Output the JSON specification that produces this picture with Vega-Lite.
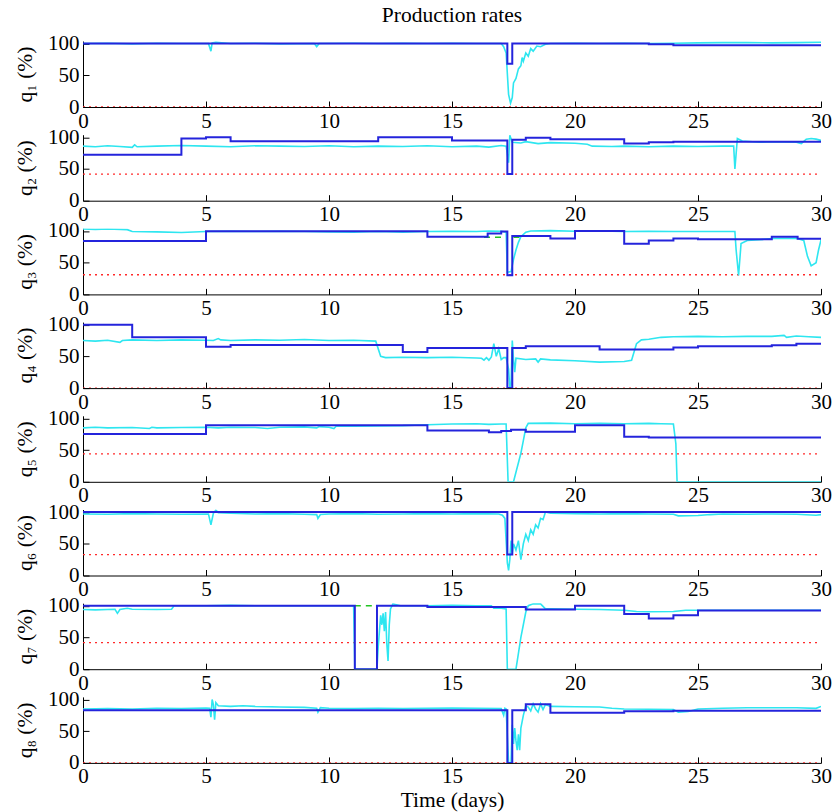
{
 "$schema": "https://vega.github.io/schema/vega-lite/v6.json",
 "padding": {"left": 14, "top": 5, "right": 8, "bottom": 0},
 "title": {"text": "Production rates", "font": "Liberation Serif", "fontSize": 21.5, "fontWeight": "normal", "color": "#000", "anchor": "middle", "frame": "group", "offset": 6},
 "spacing": 27.7,
 "bounds": "flush",
 "datasets": {
  "d": [
   {"q":1,"s":"lim","t":0,"v":0},{"q":1,"s":"lim","t":30,"v":0},
   {"q":2,"s":"lim","t":0,"v":42},{"q":2,"s":"lim","t":30,"v":42},
   {"q":3,"s":"lim","t":0,"v":31},{"q":3,"s":"lim","t":30,"v":31},
   {"q":4,"s":"lim","t":0,"v":0},{"q":4,"s":"lim","t":30,"v":0},
   {"q":5,"s":"lim","t":0,"v":44},{"q":5,"s":"lim","t":30,"v":44},
   {"q":6,"s":"lim","t":0,"v":33},{"q":6,"s":"lim","t":30,"v":33},
   {"q":7,"s":"lim","t":0,"v":42},{"q":7,"s":"lim","t":30,"v":42},
   {"q":8,"s":"lim","t":0,"v":0},{"q":8,"s":"lim","t":30,"v":0},

   {"q":3,"s":"g","g":1,"t":16.3,"v":90},{"q":3,"s":"g","g":1,"t":17.2,"v":90},
   {"q":3,"s":"g","g":2,"t":17.5,"v":90},{"q":3,"s":"g","g":2,"t":17.9,"v":90},
   {"q":7,"s":"g","g":1,"t":11.05,"v":100},{"q":7,"s":"g","g":1,"t":12.0,"v":100},

   {"q":1,"s":"sp","t":0,"v":100},{"q":1,"s":"sp","t":17.25,"v":68},{"q":1,"s":"sp","t":17.45,"v":100},{"q":1,"s":"sp","t":23,"v":99},{"q":1,"s":"sp","t":24,"v":97.5},{"q":1,"s":"sp","t":30,"v":97.5},

   {"q":2,"s":"sp","t":0,"v":72.5},{"q":2,"s":"sp","t":4,"v":98},{"q":2,"s":"sp","t":5,"v":100},{"q":2,"s":"sp","t":6,"v":93.5},{"q":2,"s":"sp","t":12,"v":100},{"q":2,"s":"sp","t":15,"v":95},{"q":2,"s":"sp","t":17.25,"v":42},{"q":2,"s":"sp","t":17.45,"v":96},{"q":2,"s":"sp","t":18,"v":99},{"q":2,"s":"sp","t":19,"v":97},{"q":2,"s":"sp","t":22,"v":90},{"q":2,"s":"sp","t":23,"v":92},{"q":2,"s":"sp","t":24,"v":93},{"q":2,"s":"sp","t":30,"v":93},

   {"q":3,"s":"sp","t":0,"v":84},{"q":3,"s":"sp","t":5,"v":99.5},{"q":3,"s":"sp","t":14,"v":91},{"q":3,"s":"sp","t":16.45,"v":96},{"q":3,"s":"sp","t":17.0,"v":99},{"q":3,"s":"sp","t":17.25,"v":30},{"q":3,"s":"sp","t":17.45,"v":92},{"q":3,"s":"sp","t":19,"v":88},{"q":3,"s":"sp","t":20,"v":100},{"q":3,"s":"sp","t":22,"v":80},{"q":3,"s":"sp","t":23,"v":85},{"q":3,"s":"sp","t":24,"v":88},{"q":3,"s":"sp","t":25,"v":87},{"q":3,"s":"sp","t":28,"v":91},{"q":3,"s":"sp","t":29.05,"v":87.5},{"q":3,"s":"sp","t":30,"v":87.5},

   {"q":4,"s":"sp","t":0,"v":100},{"q":4,"s":"sp","t":2,"v":80},{"q":4,"s":"sp","t":5,"v":65},{"q":4,"s":"sp","t":6,"v":68},{"q":4,"s":"sp","t":13,"v":57},{"q":4,"s":"sp","t":14,"v":63},{"q":4,"s":"sp","t":17.25,"v":0},{"q":4,"s":"sp","t":17.45,"v":63},{"q":4,"s":"sp","t":18,"v":66},{"q":4,"s":"sp","t":21,"v":61},{"q":4,"s":"sp","t":24,"v":64},{"q":4,"s":"sp","t":25,"v":66},{"q":4,"s":"sp","t":28,"v":67.5},{"q":4,"s":"sp","t":29,"v":70},{"q":4,"s":"sp","t":30,"v":70},

   {"q":5,"s":"sp","t":0,"v":75.5},{"q":5,"s":"sp","t":5,"v":89},{"q":5,"s":"sp","t":14,"v":81},{"q":5,"s":"sp","t":16.5,"v":78},{"q":5,"s":"sp","t":17.0,"v":80},{"q":5,"s":"sp","t":17.4,"v":82},{"q":5,"s":"sp","t":18,"v":79},{"q":5,"s":"sp","t":20,"v":89},{"q":5,"s":"sp","t":22,"v":71},{"q":5,"s":"sp","t":23,"v":70},{"q":5,"s":"sp","t":30,"v":70},

   {"q":6,"s":"sp","t":0,"v":100},{"q":6,"s":"sp","t":17.25,"v":33},{"q":6,"s":"sp","t":17.45,"v":100},{"q":6,"s":"sp","t":30,"v":100},

   {"q":7,"s":"sp","t":0,"v":100},{"q":7,"s":"sp","t":11.05,"v":0},{"q":7,"s":"sp","t":11.95,"v":100},{"q":7,"s":"sp","t":14,"v":98},{"q":7,"s":"sp","t":18,"v":94},{"q":7,"s":"sp","t":20,"v":100},{"q":7,"s":"sp","t":22,"v":87},{"q":7,"s":"sp","t":23,"v":80},{"q":7,"s":"sp","t":24,"v":85},{"q":7,"s":"sp","t":25,"v":92.5},{"q":7,"s":"sp","t":30,"v":92.5},

   {"q":8,"s":"sp","t":0,"v":83},{"q":8,"s":"sp","t":17.25,"v":0},{"q":8,"s":"sp","t":17.45,"v":83},{"q":8,"s":"sp","t":18,"v":92.5},{"q":8,"s":"sp","t":19,"v":79},{"q":8,"s":"sp","t":22,"v":81.5},{"q":8,"s":"sp","t":24,"v":82},{"q":8,"s":"sp","t":30,"v":82},

   {"q":1,"s":"a","t":0,"v":100},{"q":1,"s":"a","t":1,"v":100.5},{"q":1,"s":"a","t":2,"v":99.5},{"q":1,"s":"a","t":3,"v":100.5},{"q":1,"s":"a","t":4,"v":100},{"q":1,"s":"a","t":5.1,"v":100},{"q":1,"s":"a","t":5.2,"v":88},{"q":1,"s":"a","t":5.25,"v":101},{"q":1,"s":"a","t":5.4,"v":102},{"q":1,"s":"a","t":6,"v":100},{"q":1,"s":"a","t":7,"v":100.5},{"q":1,"s":"a","t":8,"v":99.5},{"q":1,"s":"a","t":9.4,"v":100},{"q":1,"s":"a","t":9.5,"v":95},{"q":1,"s":"a","t":9.6,"v":100},{"q":1,"s":"a","t":11,"v":100.5},{"q":1,"s":"a","t":12,"v":100},{"q":1,"s":"a","t":13,"v":100.5},{"q":1,"s":"a","t":14,"v":100},{"q":1,"s":"a","t":15,"v":100.5},{"q":1,"s":"a","t":16,"v":100},{"q":1,"s":"a","t":17.0,"v":100},{"q":1,"s":"a","t":17.1,"v":95},{"q":1,"s":"a","t":17.2,"v":85},{"q":1,"s":"a","t":17.3,"v":20},{"q":1,"s":"a","t":17.38,"v":6},{"q":1,"s":"a","t":17.45,"v":15},{"q":1,"s":"a","t":17.5,"v":38},{"q":1,"s":"a","t":17.6,"v":45},{"q":1,"s":"a","t":17.7,"v":60},{"q":1,"s":"a","t":17.8,"v":65},{"q":1,"s":"a","t":17.85,"v":78},{"q":1,"s":"a","t":17.9,"v":72},{"q":1,"s":"a","t":18.0,"v":85},{"q":1,"s":"a","t":18.1,"v":80},{"q":1,"s":"a","t":18.2,"v":92},{"q":1,"s":"a","t":18.3,"v":88},{"q":1,"s":"a","t":18.45,"v":96},{"q":1,"s":"a","t":18.6,"v":95},{"q":1,"s":"a","t":18.8,"v":99},{"q":1,"s":"a","t":19,"v":100},{"q":1,"s":"a","t":20,"v":100.5},{"q":1,"s":"a","t":21,"v":100},{"q":1,"s":"a","t":22,"v":100.5},{"q":1,"s":"a","t":23,"v":100},{"q":1,"s":"a","t":24,"v":100.5},{"q":1,"s":"a","t":25,"v":101},{"q":1,"s":"a","t":26,"v":101.5},{"q":1,"s":"a","t":27,"v":101.5},{"q":1,"s":"a","t":28,"v":101},{"q":1,"s":"a","t":29,"v":101.5},{"q":1,"s":"a","t":30,"v":102},

   {"q":2,"s":"a","t":0,"v":86},{"q":2,"s":"a","t":0.5,"v":85},{"q":2,"s":"a","t":1,"v":86.5},{"q":2,"s":"a","t":1.5,"v":85.5},{"q":2,"s":"a","t":2,"v":84},{"q":2,"s":"a","t":2.1,"v":88},{"q":2,"s":"a","t":2.2,"v":85},{"q":2,"s":"a","t":3,"v":86},{"q":2,"s":"a","t":4,"v":87},{"q":2,"s":"a","t":5,"v":86},{"q":2,"s":"a","t":6,"v":85},{"q":2,"s":"a","t":7,"v":86.5},{"q":2,"s":"a","t":8,"v":86},{"q":2,"s":"a","t":9,"v":85.5},{"q":2,"s":"a","t":10,"v":86.5},{"q":2,"s":"a","t":11,"v":85},{"q":2,"s":"a","t":12,"v":86},{"q":2,"s":"a","t":13,"v":85.5},{"q":2,"s":"a","t":14,"v":86.5},{"q":2,"s":"a","t":15,"v":85},{"q":2,"s":"a","t":16,"v":86},{"q":2,"s":"a","t":16.5,"v":84.5},{"q":2,"s":"a","t":17.0,"v":87},{"q":2,"s":"a","t":17.2,"v":86},{"q":2,"s":"a","t":17.3,"v":60},{"q":2,"s":"a","t":17.35,"v":103},{"q":2,"s":"a","t":17.45,"v":92},{"q":2,"s":"a","t":17.8,"v":91},{"q":2,"s":"a","t":18,"v":93},{"q":2,"s":"a","t":18.5,"v":90},{"q":2,"s":"a","t":19,"v":91.5},{"q":2,"s":"a","t":20,"v":90.5},{"q":2,"s":"a","t":20.5,"v":89},{"q":2,"s":"a","t":20.7,"v":86},{"q":2,"s":"a","t":21.5,"v":85.5},{"q":2,"s":"a","t":22,"v":86},{"q":2,"s":"a","t":23,"v":85},{"q":2,"s":"a","t":24,"v":86},{"q":2,"s":"a","t":25,"v":85.5},{"q":2,"s":"a","t":26,"v":86},{"q":2,"s":"a","t":26.45,"v":86},{"q":2,"s":"a","t":26.5,"v":50},{"q":2,"s":"a","t":26.6,"v":98},{"q":2,"s":"a","t":26.8,"v":94},{"q":2,"s":"a","t":27.5,"v":92},{"q":2,"s":"a","t":28,"v":93},{"q":2,"s":"a","t":29,"v":92},{"q":2,"s":"a","t":29.2,"v":90},{"q":2,"s":"a","t":29.4,"v":97},{"q":2,"s":"a","t":29.6,"v":98},{"q":2,"s":"a","t":29.8,"v":97},{"q":2,"s":"a","t":30,"v":95},

   {"q":3,"s":"a","t":0,"v":103},{"q":3,"s":"a","t":0.5,"v":102.5},{"q":3,"s":"a","t":1,"v":103},{"q":3,"s":"a","t":1.8,"v":102},{"q":3,"s":"a","t":2,"v":99},{"q":3,"s":"a","t":3,"v":98.5},{"q":3,"s":"a","t":4,"v":97.5},{"q":3,"s":"a","t":5,"v":99},{"q":3,"s":"a","t":6,"v":99.5},{"q":3,"s":"a","t":7,"v":99},{"q":3,"s":"a","t":8,"v":99.5},{"q":3,"s":"a","t":9,"v":99},{"q":3,"s":"a","t":10,"v":98.5},{"q":3,"s":"a","t":11,"v":98},{"q":3,"s":"a","t":12,"v":99},{"q":3,"s":"a","t":13,"v":98},{"q":3,"s":"a","t":14,"v":99},{"q":3,"s":"a","t":15,"v":99.5},{"q":3,"s":"a","t":16,"v":99},{"q":3,"s":"a","t":16.5,"v":100},{"q":3,"s":"a","t":17.0,"v":99.5},{"q":3,"s":"a","t":17.2,"v":98},{"q":3,"s":"a","t":17.25,"v":35},{"q":3,"s":"a","t":17.4,"v":36},{"q":3,"s":"a","t":17.5,"v":55},{"q":3,"s":"a","t":17.6,"v":70},{"q":3,"s":"a","t":17.7,"v":82},{"q":3,"s":"a","t":17.8,"v":91},{"q":3,"s":"a","t":18.0,"v":98},{"q":3,"s":"a","t":18.2,"v":100},{"q":3,"s":"a","t":19,"v":100.5},{"q":3,"s":"a","t":20,"v":99.5},{"q":3,"s":"a","t":21,"v":100},{"q":3,"s":"a","t":22,"v":99},{"q":3,"s":"a","t":23,"v":99.5},{"q":3,"s":"a","t":24,"v":99},{"q":3,"s":"a","t":25,"v":99},{"q":3,"s":"a","t":26,"v":99},{"q":3,"s":"a","t":26.5,"v":99},{"q":3,"s":"a","t":26.55,"v":70},{"q":3,"s":"a","t":26.65,"v":30},{"q":3,"s":"a","t":26.75,"v":80},{"q":3,"s":"a","t":27,"v":85},{"q":3,"s":"a","t":27.5,"v":86},{"q":3,"s":"a","t":28,"v":88},{"q":3,"s":"a","t":29,"v":88.5},{"q":3,"s":"a","t":29.3,"v":85},{"q":3,"s":"a","t":29.45,"v":60},{"q":3,"s":"a","t":29.6,"v":45},{"q":3,"s":"a","t":29.8,"v":50},{"q":3,"s":"a","t":29.9,"v":70},{"q":3,"s":"a","t":30,"v":86},

   {"q":4,"s":"a","t":0,"v":75},{"q":4,"s":"a","t":0.5,"v":74},{"q":4,"s":"a","t":1,"v":75.5},{"q":4,"s":"a","t":1.5,"v":72},{"q":4,"s":"a","t":1.6,"v":75},{"q":4,"s":"a","t":2,"v":76},{"q":4,"s":"a","t":3,"v":75},{"q":4,"s":"a","t":4,"v":76},{"q":4,"s":"a","t":5,"v":75.5},{"q":4,"s":"a","t":5.3,"v":75},{"q":4,"s":"a","t":5.5,"v":78},{"q":4,"s":"a","t":5.6,"v":76},{"q":4,"s":"a","t":6,"v":75},{"q":4,"s":"a","t":7,"v":76},{"q":4,"s":"a","t":8,"v":75.5},{"q":4,"s":"a","t":9,"v":76.5},{"q":4,"s":"a","t":10,"v":75},{"q":4,"s":"a","t":11,"v":75.5},{"q":4,"s":"a","t":11.9,"v":74},{"q":4,"s":"a","t":12.1,"v":50},{"q":4,"s":"a","t":12.3,"v":48},{"q":4,"s":"a","t":13,"v":48.5},{"q":4,"s":"a","t":14,"v":48},{"q":4,"s":"a","t":15,"v":48.5},{"q":4,"s":"a","t":16,"v":47.5},{"q":4,"s":"a","t":16.2,"v":47},{"q":4,"s":"a","t":16.3,"v":44},{"q":4,"s":"a","t":16.4,"v":48},{"q":4,"s":"a","t":16.5,"v":44},{"q":4,"s":"a","t":16.6,"v":49},{"q":4,"s":"a","t":16.7,"v":70},{"q":4,"s":"a","t":16.8,"v":50},{"q":4,"s":"a","t":16.9,"v":62},{"q":4,"s":"a","t":17.0,"v":45},{"q":4,"s":"a","t":17.1,"v":48},{"q":4,"s":"a","t":17.2,"v":48},{"q":4,"s":"a","t":17.3,"v":30},{"q":4,"s":"a","t":17.35,"v":0},{"q":4,"s":"a","t":17.4,"v":5},{"q":4,"s":"a","t":17.45,"v":75},{"q":4,"s":"a","t":17.5,"v":45},{"q":4,"s":"a","t":17.55,"v":25},{"q":4,"s":"a","t":17.6,"v":47},{"q":4,"s":"a","t":18,"v":45},{"q":4,"s":"a","t":18.4,"v":46},{"q":4,"s":"a","t":18.5,"v":41},{"q":4,"s":"a","t":18.6,"v":46},{"q":4,"s":"a","t":19,"v":44.5},{"q":4,"s":"a","t":20,"v":43},{"q":4,"s":"a","t":21,"v":41},{"q":4,"s":"a","t":22,"v":42},{"q":4,"s":"a","t":22.3,"v":44},{"q":4,"s":"a","t":22.5,"v":70},{"q":4,"s":"a","t":22.7,"v":76},{"q":4,"s":"a","t":23,"v":77},{"q":4,"s":"a","t":23.5,"v":80},{"q":4,"s":"a","t":24,"v":81},{"q":4,"s":"a","t":25,"v":81.5},{"q":4,"s":"a","t":26,"v":81},{"q":4,"s":"a","t":27,"v":81.5},{"q":4,"s":"a","t":28,"v":81.5},{"q":4,"s":"a","t":28.5,"v":83},{"q":4,"s":"a","t":28.6,"v":80},{"q":4,"s":"a","t":29,"v":82},{"q":4,"s":"a","t":29.5,"v":81},{"q":4,"s":"a","t":30,"v":80},

   {"q":5,"s":"a","t":0,"v":85},{"q":5,"s":"a","t":0.5,"v":86},{"q":5,"s":"a","t":1,"v":85},{"q":5,"s":"a","t":2,"v":85.5},{"q":5,"s":"a","t":2.7,"v":84},{"q":5,"s":"a","t":2.8,"v":86},{"q":5,"s":"a","t":3,"v":85},{"q":5,"s":"a","t":4,"v":85.5},{"q":5,"s":"a","t":5,"v":86},{"q":5,"s":"a","t":5.5,"v":85},{"q":5,"s":"a","t":6,"v":86},{"q":5,"s":"a","t":7,"v":85.5},{"q":5,"s":"a","t":7.5,"v":84},{"q":5,"s":"a","t":8,"v":86},{"q":5,"s":"a","t":9,"v":86.5},{"q":5,"s":"a","t":9.5,"v":85},{"q":5,"s":"a","t":9.6,"v":87},{"q":5,"s":"a","t":10,"v":86},{"q":5,"s":"a","t":10.2,"v":84},{"q":5,"s":"a","t":10.3,"v":88},{"q":5,"s":"a","t":11,"v":87.5},{"q":5,"s":"a","t":12,"v":88},{"q":5,"s":"a","t":13,"v":88.5},{"q":5,"s":"a","t":14,"v":90},{"q":5,"s":"a","t":15,"v":91},{"q":5,"s":"a","t":16,"v":91.5},{"q":5,"s":"a","t":16.5,"v":90.5},{"q":5,"s":"a","t":17.0,"v":91},{"q":5,"s":"a","t":17.2,"v":91},{"q":5,"s":"a","t":17.28,"v":0},{"q":5,"s":"a","t":17.5,"v":0},{"q":5,"s":"a","t":17.6,"v":15},{"q":5,"s":"a","t":17.7,"v":30},{"q":5,"s":"a","t":17.8,"v":45},{"q":5,"s":"a","t":17.9,"v":65},{"q":5,"s":"a","t":18.0,"v":85},{"q":5,"s":"a","t":18.1,"v":92},{"q":5,"s":"a","t":19,"v":92.5},{"q":5,"s":"a","t":20,"v":91.5},{"q":5,"s":"a","t":21,"v":92},{"q":5,"s":"a","t":22,"v":91.5},{"q":5,"s":"a","t":23,"v":92},{"q":5,"s":"a","t":23.5,"v":91.5},{"q":5,"s":"a","t":24.0,"v":91},{"q":5,"s":"a","t":24.1,"v":60},{"q":5,"s":"a","t":24.15,"v":0},{"q":5,"s":"a","t":30,"v":0},

   {"q":6,"s":"a","t":0,"v":97},{"q":6,"s":"a","t":1,"v":96.5},{"q":6,"s":"a","t":2,"v":97.5},{"q":6,"s":"a","t":3,"v":97},{"q":6,"s":"a","t":4,"v":96.5},{"q":6,"s":"a","t":5.1,"v":97},{"q":6,"s":"a","t":5.2,"v":80},{"q":6,"s":"a","t":5.3,"v":98},{"q":6,"s":"a","t":5.4,"v":103},{"q":6,"s":"a","t":5.5,"v":99},{"q":6,"s":"a","t":6,"v":98},{"q":6,"s":"a","t":7,"v":97},{"q":6,"s":"a","t":8,"v":97.5},{"q":6,"s":"a","t":9,"v":96.5},{"q":6,"s":"a","t":9.5,"v":96},{"q":6,"s":"a","t":9.55,"v":90},{"q":6,"s":"a","t":9.65,"v":96},{"q":6,"s":"a","t":10,"v":97},{"q":6,"s":"a","t":11,"v":97.5},{"q":6,"s":"a","t":12,"v":96.5},{"q":6,"s":"a","t":13,"v":97},{"q":6,"s":"a","t":14,"v":97.5},{"q":6,"s":"a","t":15,"v":97},{"q":6,"s":"a","t":16,"v":97.5},{"q":6,"s":"a","t":16.9,"v":97},{"q":6,"s":"a","t":17.05,"v":95},{"q":6,"s":"a","t":17.15,"v":90},{"q":6,"s":"a","t":17.25,"v":20},{"q":6,"s":"a","t":17.3,"v":8},{"q":6,"s":"a","t":17.35,"v":25},{"q":6,"s":"a","t":17.4,"v":55},{"q":6,"s":"a","t":17.45,"v":35},{"q":6,"s":"a","t":17.5,"v":50},{"q":6,"s":"a","t":17.6,"v":40},{"q":6,"s":"a","t":17.7,"v":55},{"q":6,"s":"a","t":17.8,"v":25},{"q":6,"s":"a","t":17.9,"v":50},{"q":6,"s":"a","t":18.0,"v":65},{"q":6,"s":"a","t":18.1,"v":55},{"q":6,"s":"a","t":18.2,"v":72},{"q":6,"s":"a","t":18.3,"v":65},{"q":6,"s":"a","t":18.4,"v":80},{"q":6,"s":"a","t":18.5,"v":75},{"q":6,"s":"a","t":18.6,"v":90},{"q":6,"s":"a","t":18.7,"v":88},{"q":6,"s":"a","t":18.8,"v":100},{"q":6,"s":"a","t":19,"v":98},{"q":6,"s":"a","t":20,"v":97.5},{"q":6,"s":"a","t":21,"v":97},{"q":6,"s":"a","t":22,"v":97.5},{"q":6,"s":"a","t":23,"v":97},{"q":6,"s":"a","t":24,"v":96.5},{"q":6,"s":"a","t":24.2,"v":94},{"q":6,"s":"a","t":25,"v":94.5},{"q":6,"s":"a","t":25.5,"v":96},{"q":6,"s":"a","t":26,"v":97},{"q":6,"s":"a","t":27,"v":96.5},{"q":6,"s":"a","t":28,"v":97},{"q":6,"s":"a","t":29,"v":96.5},{"q":6,"s":"a","t":29.8,"v":95},{"q":6,"s":"a","t":30,"v":96},

   {"q":7,"s":"a","t":0,"v":94},{"q":7,"s":"a","t":0.5,"v":93.5},{"q":7,"s":"a","t":1,"v":94},{"q":7,"s":"a","t":1.3,"v":94.5},{"q":7,"s":"a","t":1.4,"v":88},{"q":7,"s":"a","t":1.5,"v":94},{"q":7,"s":"a","t":1.8,"v":96},{"q":7,"s":"a","t":2,"v":94.5},{"q":7,"s":"a","t":3,"v":94},{"q":7,"s":"a","t":3.6,"v":94.5},{"q":7,"s":"a","t":3.7,"v":100},{"q":7,"s":"a","t":5,"v":100},{"q":7,"s":"a","t":6,"v":100.5},{"q":7,"s":"a","t":7,"v":100},{"q":7,"s":"a","t":8,"v":100},{"q":7,"s":"a","t":10,"v":100},{"q":7,"s":"a","t":11,"v":100},{"q":7,"s":"a","t":11.05,"v":0},{"q":7,"s":"a","t":11.95,"v":0},{"q":7,"s":"a","t":12.0,"v":35},{"q":7,"s":"a","t":12.05,"v":60},{"q":7,"s":"a","t":12.1,"v":85},{"q":7,"s":"a","t":12.15,"v":70},{"q":7,"s":"a","t":12.2,"v":88},{"q":7,"s":"a","t":12.25,"v":60},{"q":7,"s":"a","t":12.3,"v":90},{"q":7,"s":"a","t":12.35,"v":40},{"q":7,"s":"a","t":12.4,"v":13},{"q":7,"s":"a","t":12.45,"v":70},{"q":7,"s":"a","t":12.5,"v":95},{"q":7,"s":"a","t":12.6,"v":103},{"q":7,"s":"a","t":12.7,"v":102},{"q":7,"s":"a","t":12.9,"v":100},{"q":7,"s":"a","t":14,"v":100},{"q":7,"s":"a","t":15,"v":100.5},{"q":7,"s":"a","t":16,"v":100},{"q":7,"s":"a","t":16.6,"v":100},{"q":7,"s":"a","t":16.7,"v":96},{"q":7,"s":"a","t":17,"v":96},{"q":7,"s":"a","t":17.2,"v":95},{"q":7,"s":"a","t":17.25,"v":0},{"q":7,"s":"a","t":17.6,"v":0},{"q":7,"s":"a","t":17.7,"v":25},{"q":7,"s":"a","t":17.8,"v":50},{"q":7,"s":"a","t":17.9,"v":70},{"q":7,"s":"a","t":18.0,"v":90},{"q":7,"s":"a","t":18.1,"v":100},{"q":7,"s":"a","t":18.3,"v":103},{"q":7,"s":"a","t":18.6,"v":103},{"q":7,"s":"a","t":18.8,"v":95},{"q":7,"s":"a","t":19,"v":95},{"q":7,"s":"a","t":20,"v":94.5},{"q":7,"s":"a","t":21,"v":94},{"q":7,"s":"a","t":22,"v":93},{"q":7,"s":"a","t":22.5,"v":91},{"q":7,"s":"a","t":23,"v":90.5},{"q":7,"s":"a","t":24,"v":91},{"q":7,"s":"a","t":24.5,"v":93},{"q":7,"s":"a","t":25,"v":93},{"q":7,"s":"a","t":26,"v":93},{"q":7,"s":"a","t":27,"v":93},{"q":7,"s":"a","t":28,"v":93},{"q":7,"s":"a","t":29,"v":93},{"q":7,"s":"a","t":30,"v":93},

   {"q":8,"s":"a","t":0,"v":85},{"q":8,"s":"a","t":1,"v":85.5},{"q":8,"s":"a","t":2,"v":85},{"q":8,"s":"a","t":3,"v":86},{"q":8,"s":"a","t":4,"v":85.5},{"q":8,"s":"a","t":4.5,"v":86},{"q":8,"s":"a","t":5,"v":86.5},{"q":8,"s":"a","t":5.15,"v":86},{"q":8,"s":"a","t":5.2,"v":72},{"q":8,"s":"a","t":5.25,"v":100},{"q":8,"s":"a","t":5.3,"v":92},{"q":8,"s":"a","t":5.35,"v":68},{"q":8,"s":"a","t":5.4,"v":95},{"q":8,"s":"a","t":5.5,"v":90},{"q":8,"s":"a","t":6,"v":89},{"q":8,"s":"a","t":6.5,"v":90},{"q":8,"s":"a","t":7,"v":89},{"q":8,"s":"a","t":8,"v":88},{"q":8,"s":"a","t":9,"v":87.5},{"q":8,"s":"a","t":9.5,"v":86},{"q":8,"s":"a","t":9.55,"v":80},{"q":8,"s":"a","t":9.65,"v":87},{"q":8,"s":"a","t":10,"v":86},{"q":8,"s":"a","t":11,"v":85.5},{"q":8,"s":"a","t":12,"v":86},{"q":8,"s":"a","t":13,"v":85.5},{"q":8,"s":"a","t":14,"v":86},{"q":8,"s":"a","t":15,"v":86.5},{"q":8,"s":"a","t":16,"v":86},{"q":8,"s":"a","t":17,"v":85.5},{"q":8,"s":"a","t":17.1,"v":75},{"q":8,"s":"a","t":17.15,"v":86},{"q":8,"s":"a","t":17.2,"v":85},{"q":8,"s":"a","t":17.3,"v":0},{"q":8,"s":"a","t":17.4,"v":0},{"q":8,"s":"a","t":17.45,"v":60},{"q":8,"s":"a","t":17.5,"v":30},{"q":8,"s":"a","t":17.55,"v":55},{"q":8,"s":"a","t":17.6,"v":35},{"q":8,"s":"a","t":17.65,"v":20},{"q":8,"s":"a","t":17.7,"v":45},{"q":8,"s":"a","t":17.75,"v":20},{"q":8,"s":"a","t":17.8,"v":55},{"q":8,"s":"a","t":17.9,"v":75},{"q":8,"s":"a","t":18.0,"v":90},{"q":8,"s":"a","t":18.1,"v":88},{"q":8,"s":"a","t":18.2,"v":82},{"q":8,"s":"a","t":18.3,"v":93},{"q":8,"s":"a","t":18.4,"v":85},{"q":8,"s":"a","t":18.5,"v":80},{"q":8,"s":"a","t":18.6,"v":93},{"q":8,"s":"a","t":18.7,"v":84},{"q":8,"s":"a","t":18.8,"v":92},{"q":8,"s":"a","t":19,"v":89},{"q":8,"s":"a","t":20,"v":88.5},{"q":8,"s":"a","t":21,"v":88},{"q":8,"s":"a","t":21.5,"v":86},{"q":8,"s":"a","t":22,"v":85},{"q":8,"s":"a","t":23,"v":84.5},{"q":8,"s":"a","t":24,"v":84},{"q":8,"s":"a","t":24.2,"v":80},{"q":8,"s":"a","t":24.6,"v":81},{"q":8,"s":"a","t":25,"v":85},{"q":8,"s":"a","t":26,"v":86},{"q":8,"s":"a","t":27,"v":87},{"q":8,"s":"a","t":28,"v":87},{"q":8,"s":"a","t":29,"v":87},{"q":8,"s":"a","t":29.8,"v":86},{"q":8,"s":"a","t":30,"v":89}
  ]
 },
 "data": {"name": "d"},
 "vconcat": [
  {"width": 738, "height": 66, "transform": [{"filter": "datum.q==1"}],
   "encoding": {"x": {"field": "t", "type": "quantitative", "scale": {"domain": [0, 30], "nice": false}, "axis": {"title": null}},
    "y": {"field": "v", "type": "quantitative", "scale": {"domain": [0, 104], "nice": false}, "axis": {"title": "q₁ (%)"}}},
   "layer": [
    {"transform": [{"filter": "datum.s=='lim'"}], "mark": {"type": "line", "color": "#ff2a2a", "strokeDash": [2, 4], "strokeWidth": 1.3, "clip": true}},
    {"transform": [{"filter": "datum.s=='a'"}], "mark": {"type": "line", "color": "#2ee6f0", "strokeWidth": 1.6, "clip": true}},
    {"transform": [{"filter": "datum.s=='sp'"}], "mark": {"type": "line", "color": "#2424dc", "strokeWidth": 2, "interpolate": "step-after", "clip": true}}
   ]},
  {"width": 738, "height": 66, "transform": [{"filter": "datum.q==2"}],
   "encoding": {"x": {"field": "t", "type": "quantitative", "scale": {"domain": [0, 30], "nice": false}, "axis": {"title": null}},
    "y": {"field": "v", "type": "quantitative", "scale": {"domain": [0, 104], "nice": false}, "axis": {"title": "q₂ (%)"}}},
   "layer": [
    {"transform": [{"filter": "datum.s=='lim'"}], "mark": {"type": "line", "color": "#ff2a2a", "strokeDash": [2, 4], "strokeWidth": 1.3, "clip": true}},
    {"transform": [{"filter": "datum.s=='a'"}], "mark": {"type": "line", "color": "#2ee6f0", "strokeWidth": 1.6, "clip": true}},
    {"transform": [{"filter": "datum.s=='sp'"}], "mark": {"type": "line", "color": "#2424dc", "strokeWidth": 2, "interpolate": "step-after", "clip": true}}
   ]},
  {"width": 738, "height": 66, "transform": [{"filter": "datum.q==3"}],
   "encoding": {"x": {"field": "t", "type": "quantitative", "scale": {"domain": [0, 30], "nice": false}, "axis": {"title": null}},
    "y": {"field": "v", "type": "quantitative", "scale": {"domain": [0, 104], "nice": false}, "axis": {"title": "q₃ (%)"}}},
   "layer": [
    {"transform": [{"filter": "datum.s=='lim'"}], "mark": {"type": "line", "color": "#ff2a2a", "strokeDash": [2, 4], "strokeWidth": 1.3, "clip": true}},
    {"transform": [{"filter": "datum.s=='g'"}], "mark": {"type": "line", "color": "#22c422", "strokeDash": [6, 5], "strokeWidth": 1.6, "clip": true}, "encoding": {"detail": {"field": "g"}}},
    {"transform": [{"filter": "datum.s=='a'"}], "mark": {"type": "line", "color": "#2ee6f0", "strokeWidth": 1.6, "clip": true}},
    {"transform": [{"filter": "datum.s=='sp'"}], "mark": {"type": "line", "color": "#2424dc", "strokeWidth": 2, "interpolate": "step-after", "clip": true}}
   ]},
  {"width": 738, "height": 66, "transform": [{"filter": "datum.q==4"}],
   "encoding": {"x": {"field": "t", "type": "quantitative", "scale": {"domain": [0, 30], "nice": false}, "axis": {"title": null}},
    "y": {"field": "v", "type": "quantitative", "scale": {"domain": [0, 104], "nice": false}, "axis": {"title": "q₄ (%)"}}},
   "layer": [
    {"transform": [{"filter": "datum.s=='lim'"}], "mark": {"type": "line", "color": "#ff2a2a", "strokeDash": [2, 4], "strokeWidth": 1.3, "clip": true}},
    {"transform": [{"filter": "datum.s=='a'"}], "mark": {"type": "line", "color": "#2ee6f0", "strokeWidth": 1.6, "clip": true}},
    {"transform": [{"filter": "datum.s=='sp'"}], "mark": {"type": "line", "color": "#2424dc", "strokeWidth": 2, "interpolate": "step-after", "clip": true}}
   ]},
  {"width": 738, "height": 66, "transform": [{"filter": "datum.q==5"}],
   "encoding": {"x": {"field": "t", "type": "quantitative", "scale": {"domain": [0, 30], "nice": false}, "axis": {"title": null}},
    "y": {"field": "v", "type": "quantitative", "scale": {"domain": [0, 104], "nice": false}, "axis": {"title": "q₅ (%)"}}},
   "layer": [
    {"transform": [{"filter": "datum.s=='lim'"}], "mark": {"type": "line", "color": "#ff2a2a", "strokeDash": [2, 4], "strokeWidth": 1.3, "clip": true}},
    {"transform": [{"filter": "datum.s=='a'"}], "mark": {"type": "line", "color": "#2ee6f0", "strokeWidth": 1.6, "clip": true}},
    {"transform": [{"filter": "datum.s=='sp'"}], "mark": {"type": "line", "color": "#2424dc", "strokeWidth": 2, "interpolate": "step-after", "clip": true}}
   ]},
  {"width": 738, "height": 66, "transform": [{"filter": "datum.q==6"}],
   "encoding": {"x": {"field": "t", "type": "quantitative", "scale": {"domain": [0, 30], "nice": false}, "axis": {"title": null}},
    "y": {"field": "v", "type": "quantitative", "scale": {"domain": [0, 104], "nice": false}, "axis": {"title": "q₆ (%)"}}},
   "layer": [
    {"transform": [{"filter": "datum.s=='lim'"}], "mark": {"type": "line", "color": "#ff2a2a", "strokeDash": [2, 4], "strokeWidth": 1.3, "clip": true}},
    {"transform": [{"filter": "datum.s=='a'"}], "mark": {"type": "line", "color": "#2ee6f0", "strokeWidth": 1.6, "clip": true}},
    {"transform": [{"filter": "datum.s=='sp'"}], "mark": {"type": "line", "color": "#2424dc", "strokeWidth": 2, "interpolate": "step-after", "clip": true}}
   ]},
  {"width": 738, "height": 66, "transform": [{"filter": "datum.q==7"}],
   "encoding": {"x": {"field": "t", "type": "quantitative", "scale": {"domain": [0, 30], "nice": false}, "axis": {"title": null}},
    "y": {"field": "v", "type": "quantitative", "scale": {"domain": [0, 104], "nice": false}, "axis": {"title": "q₇ (%)"}}},
   "layer": [
    {"transform": [{"filter": "datum.s=='lim'"}], "mark": {"type": "line", "color": "#ff2a2a", "strokeDash": [2, 4], "strokeWidth": 1.3, "clip": true}},
    {"transform": [{"filter": "datum.s=='g'"}], "mark": {"type": "line", "color": "#22c422", "strokeDash": [6, 5], "strokeWidth": 1.6, "clip": true}, "encoding": {"detail": {"field": "g"}}},
    {"transform": [{"filter": "datum.s=='a'"}], "mark": {"type": "line", "color": "#2ee6f0", "strokeWidth": 1.6, "clip": true}},
    {"transform": [{"filter": "datum.s=='sp'"}], "mark": {"type": "line", "color": "#2424dc", "strokeWidth": 2, "interpolate": "step-after", "clip": true}}
   ]},
  {"width": 738, "height": 66, "transform": [{"filter": "datum.q==8"}],
   "encoding": {"x": {"field": "t", "type": "quantitative", "scale": {"domain": [0, 30], "nice": false}, "axis": {"title": "Time (days)", "titlePadding": 3}},
    "y": {"field": "v", "type": "quantitative", "scale": {"domain": [0, 104], "nice": false}, "axis": {"title": "q₈ (%)"}}},
   "layer": [
    {"transform": [{"filter": "datum.s=='lim'"}], "mark": {"type": "line", "color": "#ff2a2a", "strokeDash": [2, 4], "strokeWidth": 1.3, "clip": true}},
    {"transform": [{"filter": "datum.s=='a'"}], "mark": {"type": "line", "color": "#2ee6f0", "strokeWidth": 1.6, "clip": true}},
    {"transform": [{"filter": "datum.s=='sp'"}], "mark": {"type": "line", "color": "#2424dc", "strokeWidth": 2, "interpolate": "step-after", "clip": true}}
   ]}
 ],
 "config": {
  "view": {"stroke": null},
  "font": "Liberation Serif",
  "axis": {"grid": false, "domainColor": "#000", "domainWidth": 1, "tickColor": "#000", "tickSize": -6, "labelFont": "Liberation Serif", "labelFontSize": 21, "labelColor": "#000", "titleFont": "Liberation Serif", "titleFontSize": 21.5, "titleFontWeight": "normal", "titleColor": "#000"},
  "axisX": {"tickCount": 6, "labelFlush": false, "labelOverlap": false, "labelPadding": 9, "titlePadding": 0},
  "axisY": {"tickCount": 2, "labelFlush": false, "labelOverlap": false, "labelPadding": 10, "titlePadding": 11}
 }
}
